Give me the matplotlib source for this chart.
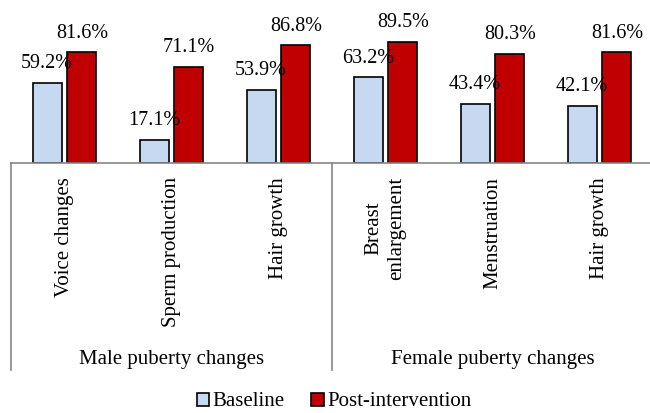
import matplotlib.pyplot as plt
import matplotlib.transforms as mtransforms
from matplotlib.patches import Patch
import numpy as np

plt.rcParams['font.family'] = ['Liberation Serif', 'DejaVu Serif']

# Awareness of puberty changes, % of students
categories = ['Voice changes', 'Sperm production', 'Hair growth',
              'Breast\nenlargement', 'Menstruation', 'Hair growth']
groups = ['Male puberty changes', 'Female puberty changes']
baseline = [59.2, 17.1, 53.9, 63.2, 43.4, 42.1]
post_intervention = [81.6, 71.1, 86.8, 89.5, 80.3, 81.6]

blue = '#C6D9F1'
red = '#C00000'
grey = '#868686'

fig = plt.figure(figsize=(6.5, 4.13), dpi=100)
ax = fig.add_axes([11 / 650, 250 / 413, 642 / 650, 135.6 / 413])

x = np.arange(len(categories))
width = 0.27
off = 0.163
bars1 = ax.bar(x - off, baseline, width, color=blue, edgecolor='black', linewidth=1.2)
bars2 = ax.bar(x + off, post_intervention, width, color=red, edgecolor='black', linewidth=1.2)

for bars, vals in ((bars1, baseline), (bars2, post_intervention)):
    for bar, v in zip(bars, vals):
        ax.annotate(f'{v:.1f}%', xy=(bar.get_x() + bar.get_width() / 2, v),
                    xytext=(0, 7), textcoords='offset points',
                    ha='center', va='bottom', fontsize=14.5)

ax.set_xlim(-0.5, len(categories) - 0.5)
ax.set_ylim(0, 100)
ax.set_xticks([])
ax.set_yticks([])
for side in ('top', 'right', 'left'):
    ax.spines[side].set_visible(False)
ax.spines['bottom'].set_color(grey)
ax.spines['bottom'].set_linewidth(1.2)

# two-level category axis below the bars
trans = mtransforms.blended_transform_factory(ax.transData, ax.transAxes)
for xs in (-0.5, 2.5, 5.5):
    ax.plot([xs, xs], [0, -1.527], transform=trans, color=grey,
            linewidth=1.2, clip_on=False)

for i, label in enumerate(categories):
    ax.text(i, -0.103, label, transform=trans, rotation=90, ha='center',
            va='top', multialignment='center', fontsize=15, linespacing=1.3)

for g, label in enumerate(groups):
    ax.text(3 * g + 1, -1.45, label, transform=trans, ha='center',
            va='center', fontsize=15)

handles = [Patch(facecolor=blue, edgecolor='black', linewidth=1.2, label='Baseline'),
           Patch(facecolor=red, edgecolor='black', linewidth=1.2, label='Post-intervention')]
fig.legend(handles=handles, loc='center', bbox_to_anchor=(334 / 650, 11 / 413),
           ncol=2, frameon=False, fontsize=15, handlelength=0.6, handleheight=0.6,
           handletextpad=0.15, columnspacing=1.3, borderpad=0.1)

fig.savefig('out.png', dpi=100)
